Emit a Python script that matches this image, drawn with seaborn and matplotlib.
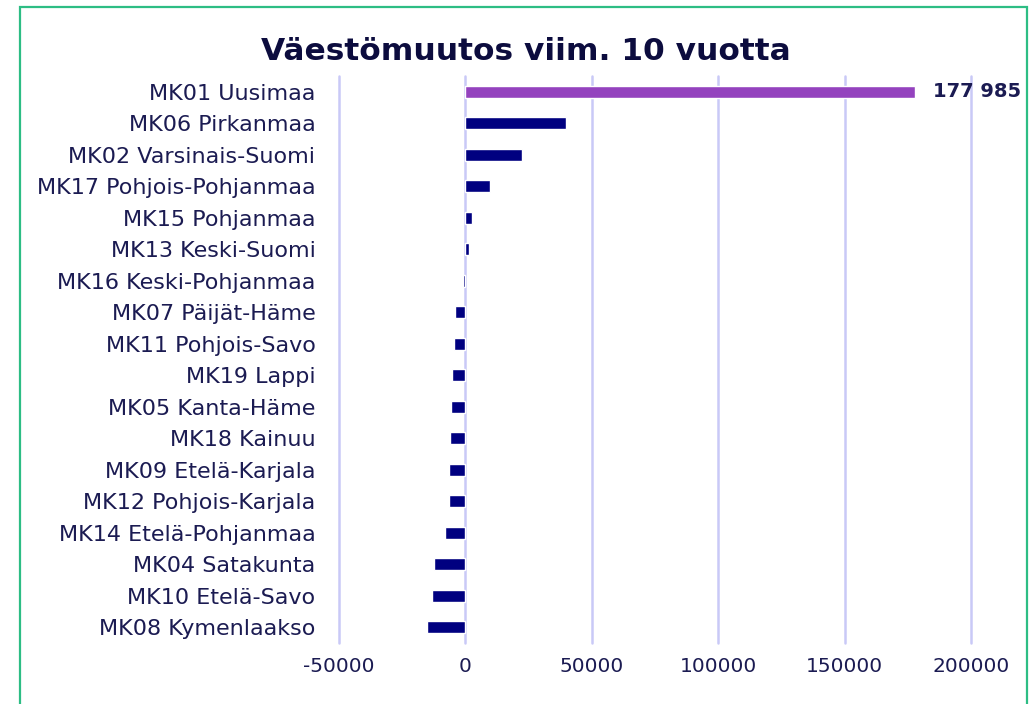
import matplotlib
matplotlib.use("Agg")
import matplotlib.pyplot as plt
import seaborn as sns
import pandas as pd
from matplotlib.patches import Rectangle

categories = [
    "MK01 Uusimaa", "MK06 Pirkanmaa", "MK02 Varsinais-Suomi", "MK17 Pohjois-Pohjanmaa",
    "MK15 Pohjanmaa", "MK13 Keski-Suomi", "MK16 Keski-Pohjanmaa", "MK07 Päijät-Häme",
    "MK11 Pohjois-Savo", "MK19 Lappi", "MK05 Kanta-Häme", "MK18 Kainuu",
    "MK09 Etelä-Karjala", "MK12 Pohjois-Karjala", "MK14 Etelä-Pohjanmaa", "MK04 Satakunta",
    "MK10 Etelä-Savo", "MK08 Kymenlaakso",
]
values = [177985, 39800, 22300, 9900, 2600, 1500, -900, -4100,
          -4600, -5400, -5700, -6200, -6300, -6600, -8000, -12400,
          -13100, -15200]
xticks = [-50000, 0, 50000, 100000, 150000, 200000]
title = "Väestömuutos viim. 10 vuotta"
highlight_label = "177 985"

sns.set_theme(style="white")
plt.rcParams['font.family'] = ['DejaVu Sans']

navy = "#000080"
purple = "#9442BE"
text_col = "#1b1b52"
grid_col = "#C9C9F7"

df = pd.DataFrame({"cat": categories, "val": values})
colors = [purple] + [navy] * (len(categories) - 1)

fig = plt.figure(figsize=(10.32, 7.04), dpi=100)
W, H = 1032, 704
ax = fig.add_axes([339 / W, 1 - 643 / H, (971 - 339) / W, (643 - 76) / H])

sns.barplot(data=df, x="val", y="cat", hue="cat", palette=colors, legend=False,
            orient="h", width=0.39, ax=ax, saturation=1)

ax.set_xlim(-50000, 200000)
ax.set_ylim(len(categories) - 0.5, -0.5)
ax.set_xticks(xticks)
ax.set_xticklabels([str(t) for t in xticks])
ax.grid(axis="x", color=grid_col, linewidth=1.8)
ax.grid(axis="y", visible=False)
ax.set_axisbelow(True)
for gl in ax.get_xgridlines():
    gl.set_clip_on(False)
for s in ax.spines.values():
    s.set_visible(False)
ax.tick_params(axis="x", length=0, pad=10, labelsize=14.5, labelcolor=text_col)
ax.tick_params(axis="y", length=0, pad=17, labelsize=16, labelcolor=text_col)
ax.set_xlabel("")
ax.set_ylabel("")

ax.annotate(highlight_label, xy=(values[0], 0), xytext=(13, 0),
            textcoords="offset points", va="center", ha="left",
            fontsize=14, fontweight="bold", color=text_col, annotation_clip=False)

fig.text(526 / W, 1 - 52 / H, title, ha="center", va="center",
         fontsize=22.5, fontweight="bold", color="#0c0c3e")

fig.patches.append(Rectangle((20 / W, -0.05), (1027 - 20) / W, 1 - 7 / H + 0.05,
                             transform=fig.transFigure, fill=False,
                             edgecolor="#2DBD84", linewidth=1.6))

fig.savefig("out.png", dpi=100)
